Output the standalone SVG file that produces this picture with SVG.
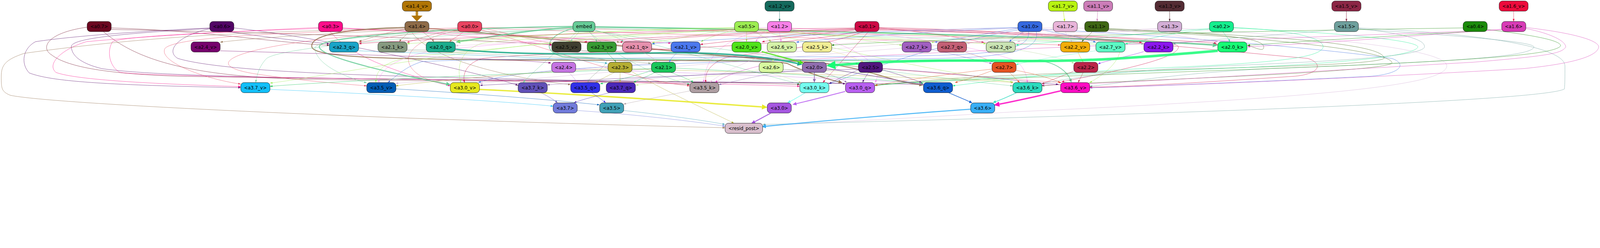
<svg xmlns="http://www.w3.org/2000/svg" width="6300" height="635" viewBox="0 0 6300 635">
<style>
@media (max-width:6290px){svg{width:100vw;height:auto}}
.node rect{stroke:#000;stroke-width:1.2}
.node text{font-family:"DejaVu Sans","Liberation Sans",sans-serif;font-size:18px;text-anchor:middle;fill:#000}
#connectors path{fill:none;stroke-width:1.2;stroke-opacity:.85}
.c-a14v{stroke:#b07505;marker-end:url(#m-a14v)}.c-a12v{stroke:#14695c;marker-end:url(#m-a12v)}.c-a17v{stroke:#b8f311;marker-end:url(#m-a17v)}.c-a11v{stroke:#cc7db8;marker-end:url(#m-a11v)}.c-a13v{stroke:#542c34;marker-end:url(#m-a13v)}.c-a15v{stroke:#8b2645;marker-end:url(#m-a15v)}.c-a16v{stroke:#f590a8;marker-end:url(#m-a16v)}
.c-a07{stroke:#6b0620;marker-end:url(#m-a07)}.c-a06{stroke:#520565;marker-end:url(#m-a06)}.c-a03{stroke:#fb0d8a;marker-end:url(#m-a03)}.c-a14{stroke:#8e6b48;marker-end:url(#m-a14)}.c-a00{stroke:#e94461;marker-end:url(#m-a00)}.c-emb{stroke:#66cb97;marker-end:url(#m-emb)}.c-a05{stroke:#9ded52;marker-end:url(#m-a05)}.c-a12{stroke:#f880e8;marker-end:url(#m-a12)}.c-a01{stroke:#cd0a45;marker-end:url(#m-a01)}.c-a10{stroke:#3569df;marker-end:url(#m-a10)}.c-a17{stroke:#e8b4d9;marker-end:url(#m-a17)}.c-a11{stroke:#3f6614;marker-end:url(#m-a11)}.c-a13{stroke:#d3aed6;marker-end:url(#m-a13)}.c-a02{stroke:#14ee8e;marker-end:url(#m-a02)}.c-a15{stroke:#6e9f9c;marker-end:url(#m-a15)}.c-a04{stroke:#1b8a0a;marker-end:url(#m-a04)}.c-a16{stroke:#d83bb6;marker-end:url(#m-a16)}
.c-a24v{stroke:#76036d;marker-end:url(#m-a24v)}.c-a23q{stroke:#19a4c8;marker-end:url(#m-a23q)}.c-a21k{stroke:#869a80;marker-end:url(#m-a21k)}.c-a20q{stroke:#1bac8b;marker-end:url(#m-a20q)}.c-a25v{stroke:#403f30;marker-end:url(#m-a25v)}.c-a23v{stroke:#379b33;marker-end:url(#m-a23v)}.c-a21q{stroke:#e690ad;marker-end:url(#m-a21q)}.c-a21v{stroke:#4b78ee;marker-end:url(#m-a21v)}.c-a20v{stroke:#50e31a;marker-end:url(#m-a20v)}.c-a26v{stroke:#c5e898;marker-end:url(#m-a26v)}.c-a25k{stroke:#e6e080;marker-end:url(#m-a25k)}.c-a27k{stroke:#a15fc0;marker-end:url(#m-a27k)}.c-a27q{stroke:#c35f75;marker-end:url(#m-a27q)}.c-a22q{stroke:#b9d8a0;marker-end:url(#m-a22q)}.c-a22v{stroke:#f2ae0a;marker-end:url(#m-a22v)}.c-a27v{stroke:#5cf8c4;marker-end:url(#m-a27v)}.c-a22k{stroke:#8c16ed;marker-end:url(#m-a22k)}.c-a20k{stroke:#17fc75;marker-end:url(#m-a20k)}
.c-a24{stroke:#c574e2;marker-end:url(#m-a24)}.c-a23{stroke:#b5ae33;marker-end:url(#m-a23)}.c-a21{stroke:#1bc65b;marker-end:url(#m-a21)}.c-a26{stroke:#c8ee90;marker-end:url(#m-a26)}.c-a20{stroke:#906dae;marker-end:url(#m-a20)}.c-a25{stroke:#52177e;marker-end:url(#m-a25)}.c-a27{stroke:#e45322;marker-end:url(#m-a27)}.c-a22{stroke:#bb2449;marker-end:url(#m-a22)}
.c-a37v{stroke:#13bff9;marker-end:url(#m-a37v)}.c-a35v{stroke:#015db5;marker-end:url(#m-a35v)}.c-a30v{stroke:#e6e920;marker-end:url(#m-a30v)}.c-a37k{stroke:#6050b7;marker-end:url(#m-a37k)}.c-a35q{stroke:#3130e8;marker-end:url(#m-a35q)}.c-a37q{stroke:#4b28b8;marker-end:url(#m-a37q)}.c-a35k{stroke:#ae9ea2;marker-end:url(#m-a35k)}.c-a30k{stroke:#74fcef;marker-end:url(#m-a30k)}.c-a30q{stroke:#b85ff0;marker-end:url(#m-a30q)}.c-a36q{stroke:#0f5dcf;marker-end:url(#m-a36q)}.c-a36k{stroke:#2bdbbe;marker-end:url(#m-a36k)}.c-a36v{stroke:#fd0bc3;marker-end:url(#m-a36v)}
.c-a37{stroke:#717bdb;marker-end:url(#m-a37)}.c-a35{stroke:#41a1b7;marker-end:url(#m-a35)}.c-a30{stroke:#a557e0;marker-end:url(#m-a30)}.c-a36{stroke:#39aff6;marker-end:url(#m-a36)}
</style>
<defs>
<marker id="m-a14v" markerWidth="10" markerHeight="8" refX="10" refY="4" orient="auto" markerUnits="userSpaceOnUse"><path d="M0,0.5L10,4L0,7.5z" fill="#b07505"/></marker>
<marker id="m-a12v" markerWidth="10" markerHeight="8" refX="10" refY="4" orient="auto" markerUnits="userSpaceOnUse"><path d="M0,0.5L10,4L0,7.5z" fill="#14695c"/></marker>
<marker id="m-a17v" markerWidth="10" markerHeight="8" refX="10" refY="4" orient="auto" markerUnits="userSpaceOnUse"><path d="M0,0.5L10,4L0,7.5z" fill="#b8f311"/></marker>
<marker id="m-a11v" markerWidth="10" markerHeight="8" refX="10" refY="4" orient="auto" markerUnits="userSpaceOnUse"><path d="M0,0.5L10,4L0,7.5z" fill="#cc7db8"/></marker>
<marker id="m-a13v" markerWidth="10" markerHeight="8" refX="10" refY="4" orient="auto" markerUnits="userSpaceOnUse"><path d="M0,0.5L10,4L0,7.5z" fill="#542c34"/></marker>
<marker id="m-a15v" markerWidth="10" markerHeight="8" refX="10" refY="4" orient="auto" markerUnits="userSpaceOnUse"><path d="M0,0.5L10,4L0,7.5z" fill="#8b2645"/></marker>
<marker id="m-a16v" markerWidth="10" markerHeight="8" refX="10" refY="4" orient="auto" markerUnits="userSpaceOnUse"><path d="M0,0.5L10,4L0,7.5z" fill="#ed0b3c"/></marker>
<marker id="m-a07" markerWidth="10" markerHeight="8" refX="10" refY="4" orient="auto" markerUnits="userSpaceOnUse"><path d="M0,0.5L10,4L0,7.5z" fill="#6b0620"/></marker>
<marker id="m-a06" markerWidth="10" markerHeight="8" refX="10" refY="4" orient="auto" markerUnits="userSpaceOnUse"><path d="M0,0.5L10,4L0,7.5z" fill="#520565"/></marker>
<marker id="m-a03" markerWidth="10" markerHeight="8" refX="10" refY="4" orient="auto" markerUnits="userSpaceOnUse"><path d="M0,0.5L10,4L0,7.5z" fill="#fb0d8a"/></marker>
<marker id="m-a14" markerWidth="10" markerHeight="8" refX="10" refY="4" orient="auto" markerUnits="userSpaceOnUse"><path d="M0,0.5L10,4L0,7.5z" fill="#8e6b48"/></marker>
<marker id="m-a00" markerWidth="10" markerHeight="8" refX="10" refY="4" orient="auto" markerUnits="userSpaceOnUse"><path d="M0,0.5L10,4L0,7.5z" fill="#e94461"/></marker>
<marker id="m-emb" markerWidth="10" markerHeight="8" refX="10" refY="4" orient="auto" markerUnits="userSpaceOnUse"><path d="M0,0.5L10,4L0,7.5z" fill="#66cb97"/></marker>
<marker id="m-a05" markerWidth="10" markerHeight="8" refX="10" refY="4" orient="auto" markerUnits="userSpaceOnUse"><path d="M0,0.5L10,4L0,7.5z" fill="#9ded52"/></marker>
<marker id="m-a12" markerWidth="10" markerHeight="8" refX="10" refY="4" orient="auto" markerUnits="userSpaceOnUse"><path d="M0,0.5L10,4L0,7.5z" fill="#f880e8"/></marker>
<marker id="m-a01" markerWidth="10" markerHeight="8" refX="10" refY="4" orient="auto" markerUnits="userSpaceOnUse"><path d="M0,0.5L10,4L0,7.5z" fill="#cd0a45"/></marker>
<marker id="m-a10" markerWidth="10" markerHeight="8" refX="10" refY="4" orient="auto" markerUnits="userSpaceOnUse"><path d="M0,0.5L10,4L0,7.5z" fill="#3569df"/></marker>
<marker id="m-a17" markerWidth="10" markerHeight="8" refX="10" refY="4" orient="auto" markerUnits="userSpaceOnUse"><path d="M0,0.5L10,4L0,7.5z" fill="#e8b4d9"/></marker>
<marker id="m-a11" markerWidth="10" markerHeight="8" refX="10" refY="4" orient="auto" markerUnits="userSpaceOnUse"><path d="M0,0.5L10,4L0,7.5z" fill="#3f6614"/></marker>
<marker id="m-a13" markerWidth="10" markerHeight="8" refX="10" refY="4" orient="auto" markerUnits="userSpaceOnUse"><path d="M0,0.5L10,4L0,7.5z" fill="#d3aed6"/></marker>
<marker id="m-a02" markerWidth="10" markerHeight="8" refX="10" refY="4" orient="auto" markerUnits="userSpaceOnUse"><path d="M0,0.5L10,4L0,7.5z" fill="#14ee8e"/></marker>
<marker id="m-a15" markerWidth="10" markerHeight="8" refX="10" refY="4" orient="auto" markerUnits="userSpaceOnUse"><path d="M0,0.5L10,4L0,7.5z" fill="#6e9f9c"/></marker>
<marker id="m-a04" markerWidth="10" markerHeight="8" refX="10" refY="4" orient="auto" markerUnits="userSpaceOnUse"><path d="M0,0.5L10,4L0,7.5z" fill="#1b8a0a"/></marker>
<marker id="m-a16" markerWidth="10" markerHeight="8" refX="10" refY="4" orient="auto" markerUnits="userSpaceOnUse"><path d="M0,0.5L10,4L0,7.5z" fill="#d83bb6"/></marker>
<marker id="m-a24v" markerWidth="10" markerHeight="8" refX="10" refY="4" orient="auto" markerUnits="userSpaceOnUse"><path d="M0,0.5L10,4L0,7.5z" fill="#76036d"/></marker>
<marker id="m-a23q" markerWidth="10" markerHeight="8" refX="10" refY="4" orient="auto" markerUnits="userSpaceOnUse"><path d="M0,0.5L10,4L0,7.5z" fill="#19a4c8"/></marker>
<marker id="m-a21k" markerWidth="10" markerHeight="8" refX="10" refY="4" orient="auto" markerUnits="userSpaceOnUse"><path d="M0,0.5L10,4L0,7.5z" fill="#869a80"/></marker>
<marker id="m-a20q" markerWidth="10" markerHeight="8" refX="10" refY="4" orient="auto" markerUnits="userSpaceOnUse"><path d="M0,0.5L10,4L0,7.5z" fill="#1bac8b"/></marker>
<marker id="m-a25v" markerWidth="10" markerHeight="8" refX="10" refY="4" orient="auto" markerUnits="userSpaceOnUse"><path d="M0,0.5L10,4L0,7.5z" fill="#403f30"/></marker>
<marker id="m-a23v" markerWidth="10" markerHeight="8" refX="10" refY="4" orient="auto" markerUnits="userSpaceOnUse"><path d="M0,0.5L10,4L0,7.5z" fill="#379b33"/></marker>
<marker id="m-a21q" markerWidth="10" markerHeight="8" refX="10" refY="4" orient="auto" markerUnits="userSpaceOnUse"><path d="M0,0.5L10,4L0,7.5z" fill="#e690ad"/></marker>
<marker id="m-a21v" markerWidth="10" markerHeight="8" refX="10" refY="4" orient="auto" markerUnits="userSpaceOnUse"><path d="M0,0.5L10,4L0,7.5z" fill="#4b78ee"/></marker>
<marker id="m-a20v" markerWidth="10" markerHeight="8" refX="10" refY="4" orient="auto" markerUnits="userSpaceOnUse"><path d="M0,0.5L10,4L0,7.5z" fill="#50e31a"/></marker>
<marker id="m-a26v" markerWidth="10" markerHeight="8" refX="10" refY="4" orient="auto" markerUnits="userSpaceOnUse"><path d="M0,0.5L10,4L0,7.5z" fill="#c5e898"/></marker>
<marker id="m-a25k" markerWidth="10" markerHeight="8" refX="10" refY="4" orient="auto" markerUnits="userSpaceOnUse"><path d="M0,0.5L10,4L0,7.5z" fill="#e6e080"/></marker>
<marker id="m-a27k" markerWidth="10" markerHeight="8" refX="10" refY="4" orient="auto" markerUnits="userSpaceOnUse"><path d="M0,0.5L10,4L0,7.5z" fill="#a15fc0"/></marker>
<marker id="m-a27q" markerWidth="10" markerHeight="8" refX="10" refY="4" orient="auto" markerUnits="userSpaceOnUse"><path d="M0,0.5L10,4L0,7.5z" fill="#c35f75"/></marker>
<marker id="m-a22q" markerWidth="10" markerHeight="8" refX="10" refY="4" orient="auto" markerUnits="userSpaceOnUse"><path d="M0,0.5L10,4L0,7.5z" fill="#b9d8a0"/></marker>
<marker id="m-a22v" markerWidth="10" markerHeight="8" refX="10" refY="4" orient="auto" markerUnits="userSpaceOnUse"><path d="M0,0.5L10,4L0,7.5z" fill="#f2ae0a"/></marker>
<marker id="m-a27v" markerWidth="10" markerHeight="8" refX="10" refY="4" orient="auto" markerUnits="userSpaceOnUse"><path d="M0,0.5L10,4L0,7.5z" fill="#5cf8c4"/></marker>
<marker id="m-a22k" markerWidth="10" markerHeight="8" refX="10" refY="4" orient="auto" markerUnits="userSpaceOnUse"><path d="M0,0.5L10,4L0,7.5z" fill="#8c16ed"/></marker>
<marker id="m-a20k" markerWidth="10" markerHeight="8" refX="10" refY="4" orient="auto" markerUnits="userSpaceOnUse"><path d="M0,0.5L10,4L0,7.5z" fill="#17fc75"/></marker>
<marker id="m-a24" markerWidth="10" markerHeight="8" refX="10" refY="4" orient="auto" markerUnits="userSpaceOnUse"><path d="M0,0.5L10,4L0,7.5z" fill="#c574e2"/></marker>
<marker id="m-a23" markerWidth="10" markerHeight="8" refX="10" refY="4" orient="auto" markerUnits="userSpaceOnUse"><path d="M0,0.5L10,4L0,7.5z" fill="#b5ae33"/></marker>
<marker id="m-a21" markerWidth="10" markerHeight="8" refX="10" refY="4" orient="auto" markerUnits="userSpaceOnUse"><path d="M0,0.5L10,4L0,7.5z" fill="#1bc65b"/></marker>
<marker id="m-a26" markerWidth="10" markerHeight="8" refX="10" refY="4" orient="auto" markerUnits="userSpaceOnUse"><path d="M0,0.5L10,4L0,7.5z" fill="#c8ee90"/></marker>
<marker id="m-a20" markerWidth="10" markerHeight="8" refX="10" refY="4" orient="auto" markerUnits="userSpaceOnUse"><path d="M0,0.5L10,4L0,7.5z" fill="#906dae"/></marker>
<marker id="m-a25" markerWidth="10" markerHeight="8" refX="10" refY="4" orient="auto" markerUnits="userSpaceOnUse"><path d="M0,0.5L10,4L0,7.5z" fill="#52177e"/></marker>
<marker id="m-a27" markerWidth="10" markerHeight="8" refX="10" refY="4" orient="auto" markerUnits="userSpaceOnUse"><path d="M0,0.5L10,4L0,7.5z" fill="#e45322"/></marker>
<marker id="m-a22" markerWidth="10" markerHeight="8" refX="10" refY="4" orient="auto" markerUnits="userSpaceOnUse"><path d="M0,0.5L10,4L0,7.5z" fill="#bb2449"/></marker>
<marker id="m-a37v" markerWidth="10" markerHeight="8" refX="10" refY="4" orient="auto" markerUnits="userSpaceOnUse"><path d="M0,0.5L10,4L0,7.5z" fill="#13bff9"/></marker>
<marker id="m-a35v" markerWidth="10" markerHeight="8" refX="10" refY="4" orient="auto" markerUnits="userSpaceOnUse"><path d="M0,0.5L10,4L0,7.5z" fill="#015db5"/></marker>
<marker id="m-a30v" markerWidth="10" markerHeight="8" refX="10" refY="4" orient="auto" markerUnits="userSpaceOnUse"><path d="M0,0.5L10,4L0,7.5z" fill="#e6e920"/></marker>
<marker id="m-a37k" markerWidth="10" markerHeight="8" refX="10" refY="4" orient="auto" markerUnits="userSpaceOnUse"><path d="M0,0.5L10,4L0,7.5z" fill="#6050b7"/></marker>
<marker id="m-a35q" markerWidth="10" markerHeight="8" refX="10" refY="4" orient="auto" markerUnits="userSpaceOnUse"><path d="M0,0.5L10,4L0,7.5z" fill="#3130e8"/></marker>
<marker id="m-a37q" markerWidth="10" markerHeight="8" refX="10" refY="4" orient="auto" markerUnits="userSpaceOnUse"><path d="M0,0.5L10,4L0,7.5z" fill="#4b28b8"/></marker>
<marker id="m-a35k" markerWidth="10" markerHeight="8" refX="10" refY="4" orient="auto" markerUnits="userSpaceOnUse"><path d="M0,0.5L10,4L0,7.5z" fill="#ae9ea2"/></marker>
<marker id="m-a30k" markerWidth="10" markerHeight="8" refX="10" refY="4" orient="auto" markerUnits="userSpaceOnUse"><path d="M0,0.5L10,4L0,7.5z" fill="#74fcef"/></marker>
<marker id="m-a30q" markerWidth="10" markerHeight="8" refX="10" refY="4" orient="auto" markerUnits="userSpaceOnUse"><path d="M0,0.5L10,4L0,7.5z" fill="#b85ff0"/></marker>
<marker id="m-a36q" markerWidth="10" markerHeight="8" refX="10" refY="4" orient="auto" markerUnits="userSpaceOnUse"><path d="M0,0.5L10,4L0,7.5z" fill="#0f5dcf"/></marker>
<marker id="m-a36k" markerWidth="10" markerHeight="8" refX="10" refY="4" orient="auto" markerUnits="userSpaceOnUse"><path d="M0,0.5L10,4L0,7.5z" fill="#2bdbbe"/></marker>
<marker id="m-a36v" markerWidth="10" markerHeight="8" refX="10" refY="4" orient="auto" markerUnits="userSpaceOnUse"><path d="M0,0.5L10,4L0,7.5z" fill="#fd0bc3"/></marker>
<marker id="m-a37" markerWidth="10" markerHeight="8" refX="10" refY="4" orient="auto" markerUnits="userSpaceOnUse"><path d="M0,0.5L10,4L0,7.5z" fill="#717bdb"/></marker>
<marker id="m-a35" markerWidth="10" markerHeight="8" refX="10" refY="4" orient="auto" markerUnits="userSpaceOnUse"><path d="M0,0.5L10,4L0,7.5z" fill="#41a1b7"/></marker>
<marker id="m-a30" markerWidth="10" markerHeight="8" refX="10" refY="4" orient="auto" markerUnits="userSpaceOnUse"><path d="M0,0.5L10,4L0,7.5z" fill="#a557e0"/></marker>
<marker id="m-a36" markerWidth="10" markerHeight="8" refX="10" refY="4" orient="auto" markerUnits="userSpaceOnUse"><path d="M0,0.5L10,4L0,7.5z" fill="#39aff6"/></marker>
<marker id="t-a14v" markerWidth="23" markerHeight="44" refX="0" refY="22" orient="auto" markerUnits="userSpaceOnUse"><path d="M0,0L23,22L0,44z" fill="#b07505"/></marker>
<marker id="t-emb-a" markerWidth="18" markerHeight="16" refX="0" refY="8" orient="auto" markerUnits="userSpaceOnUse"><path d="M0,0L18,8L0,16z" fill="#66cb97"/></marker>
<marker id="t-emb-b" markerWidth="20" markerHeight="18" refX="0" refY="9" orient="auto" markerUnits="userSpaceOnUse"><path d="M0,0L20,9L0,18z" fill="#66cb97"/></marker>
<marker id="t-emb-c" markerWidth="14" markerHeight="12" refX="0" refY="6" orient="auto" markerUnits="userSpaceOnUse"><path d="M0,0L14,6L0,12z" fill="#66cb97"/></marker>
<marker id="t-a14" markerWidth="16" markerHeight="14" refX="0" refY="7" orient="auto" markerUnits="userSpaceOnUse"><path d="M0,0L16,7L0,14z" fill="#8e6b48"/></marker>
<marker id="t-a20q" markerWidth="20" markerHeight="18" refX="0" refY="9" orient="auto" markerUnits="userSpaceOnUse"><path d="M0,0L20,9L0,18z" fill="#1bac8b"/></marker>
<marker id="t-a20v" markerWidth="18" markerHeight="16" refX="0" refY="8" orient="auto" markerUnits="userSpaceOnUse"><path d="M0,0L18,8L0,16z" fill="#50e31a"/></marker>
<marker id="t-a20k" markerWidth="36" markerHeight="34" refX="0" refY="17" orient="auto" markerUnits="userSpaceOnUse"><path d="M0,0L36,17L0,34z" fill="#17fc75"/></marker>
<marker id="t-a20" markerWidth="14" markerHeight="12" refX="0" refY="6" orient="auto" markerUnits="userSpaceOnUse"><path d="M0,0L14,6L0,12z" fill="#906dae"/></marker>
<marker id="t-a30v" markerWidth="22" markerHeight="20" refX="0" refY="10" orient="auto" markerUnits="userSpaceOnUse"><path d="M0,0L22,10L0,20z" fill="#e6e920"/></marker>
<marker id="t-a30q" markerWidth="16" markerHeight="14" refX="0" refY="7" orient="auto" markerUnits="userSpaceOnUse"><path d="M0,0L16,7L0,14z" fill="#b85ff0"/></marker>
<marker id="t-a30k" markerWidth="14" markerHeight="12" refX="0" refY="6" orient="auto" markerUnits="userSpaceOnUse"><path d="M0,0L14,6L0,12z" fill="#74fcef"/></marker>
<marker id="t-a36q" markerWidth="13" markerHeight="11" refX="0" refY="5.5" orient="auto" markerUnits="userSpaceOnUse"><path d="M0,0L13,5.5L0,11z" fill="#0f5dcf"/></marker>
<marker id="t-a36k" markerWidth="13" markerHeight="11" refX="0" refY="5.5" orient="auto" markerUnits="userSpaceOnUse"><path d="M0,0L13,5.5L0,11z" fill="#2bdbbe"/></marker>
<marker id="t-a36v" markerWidth="22" markerHeight="20" refX="0" refY="10" orient="auto" markerUnits="userSpaceOnUse"><path d="M0,0L22,10L0,20z" fill="#fd0bc3"/></marker>
<marker id="t-a30" markerWidth="16" markerHeight="14" refX="0" refY="7" orient="auto" markerUnits="userSpaceOnUse"><path d="M0,0L16,7L0,14z" fill="#a557e0"/></marker>
<marker id="t-a36" markerWidth="18" markerHeight="16" refX="0" refY="8" orient="auto" markerUnits="userSpaceOnUse"><path d="M0,0L18,8L0,16z" fill="#39aff6"/></marker>
</defs>
<rect width="6300" height="635" fill="#fff"/>
<g id="connectors">
<path class="c-a14v" d="M1641.5,44V61.5" style="stroke-width:10;marker-end:url(#t-a14v)"/>
<path class="c-a12v" d="M3069.5,44V84.5"/>
<path class="c-a17v" d="M4187,44L4192,84.5" style="stroke-width:1.5"/>
<path class="c-a11v" d="M4322,44L4320,84.5" style="stroke-width:1.5"/>
<path class="c-a13v" d="M4605.5,44V84.5" style="stroke-width:1.5"/>
<path class="c-a15v" d="M5301.5,44V84.5" style="stroke-width:1.5"/>
<path class="c-a16v" d="M5960,44V84.5" style="stroke-width:2.5"/>
<path class="c-a07" d="M438,110C800,120 1100,170 1297,178"/>
<path class="c-a07" d="M407,124.5C520,220 700,300 1200,312C1900,322 2500,318 2716,333"/>
<path class="c-a07" d="M343,107C180,130 160,190 203,216C260,260 400,290 700,300C1500,315 2800,318 3149,333"/>
<path class="c-a07" d="M438,116C1200,130 1900,160 2173,175"/>
<path class="c-a06" d="M900,124.5C1000,140 1200,165 1297,172"/>
<path class="c-a06" d="M921,110C1300,150 1900,290 2040,336"/>
<path class="c-a06" d="M826,110C600,120 300,140 140,164C90,190 80,250 115,287C200,320 400,335 948,345"/>
<path class="c-a06" d="M826,112C500,130 281,150 281,183C281,220 320,250 400,270C600,300 1200,310 2000,315C3000,325 3500,328 3636,333"/>
<path class="c-a06" d="M826,113C700,140 650,200 700,230C900,290 1600,300 2000,310C2800,330 3200,322 3329,330"/>
<path class="c-a03" d="M1254,108C1000,120 600,140 341,164C250,190 180,250 220,285C300,315 600,330 948,341"/>
<path class="c-a03" d="M1254,112C900,125 500,140 443,164C420,200 430,260 470,284C600,310 2500,315 3149,340"/>
<path class="c-a03" d="M1348,110C1800,130 2100,170 2173,178"/>
<path class="c-a03" d="M1348,112C2000,140 2500,160 2642,170"/>
<path class="c-a03" d="M1300,124.5C1400,250 1700,320 1773,338"/>
<path class="c-a14" d="M1594,108C1300,115 1220,150 1228,185C1236,225 1500,233 2000,236C2600,238 3050,236 3100,250C3150,275 3250,310 3302,322" style="stroke-width:3.5;marker-end:url(#t-a14)"/>
<path class="c-a14" d="M1688,112C2200,150 2800,225 3200,245C3400,260 3500,320 3620,333" style="stroke-width:3.5;marker-end:url(#t-a14)"/>
<path class="c-a14" d="M1610,124.5C1600,140 1580,150 1573,165"/>
<path class="c-a14" d="M1665,124.5C1680,140 1700,150 1708,165"/>
<path class="c-a14" d="M1594,118C1300,130 1000,150 867,166"/>
<path class="c-a14" d="M1688,118C2000,140 2350,155 2440,166"/>
<path class="c-a14" d="M1620,124.5C1700,250 2100,320 2247,333"/>
<path class="c-a14" d="M1594,116C1500,130 1450,155 1413,162"/>
<path class="c-a14" d="M1594,112C1000,125 600,140 95,210C20,235 5,257 5,300C5,348 5,360 40,375C200,410 1500,470 2855,503"/>
<path class="c-a00" d="M1802,112C1600,130 1500,155 1413,166"/>
<path class="c-a00" d="M1802,115C1700,130 1650,155 1602,167"/>
<path class="c-a00" d="M1825,124.5C1810,140 1785,150 1770,165"/>
<path class="c-a00" d="M1896,110C2000,130 2100,160 2173,170"/>
<path class="c-a00" d="M1802,110C1200,125 700,140 650,190C620,240 800,310 948,331"/>
<path class="c-a00" d="M1802,118C1100,140 700,240 1000,290C1200,320 1350,330 1444,338"/>
<path class="c-a00" d="M1802,120C1500,180 1600,320 1773,332"/>
<path class="c-a00" d="M1896,112C2800,140 3800,165 4176,177"/>
<path class="c-a00" d="M1896,108C3000,120 4400,160 4795,175"/>
<path class="c-a00" d="M1896,118C2200,200 2500,320 2716,338"/>
<path class="c-a00" d="M1896,121C2600,200 3800,300 4180,325"/>
<path class="c-emb" d="M2256,108C2100,115 1900,150 1812,163" style="stroke-width:5;marker-end:url(#t-emb-a)"/>
<path class="c-emb" d="M2343,106C3000,115 4400,150 4775,177" style="stroke-width:6;marker-end:url(#t-emb-b)"/>
<path class="c-emb" d="M2256,104C1800,110 1250,140 1257,185C1265,230 1600,300 1757,330" style="stroke-width:4;marker-end:url(#t-emb-a)"/>
<path class="c-emb" d="M2256,112C2150,140 2130,200 2215,223C2400,240 3500,238 4100,240C4170,250 4205,290 4214,312" style="stroke-width:3;marker-end:url(#t-emb-c)"/>
<path class="c-emb" d="M2280,124.5C2270,140 2255,150 2247,165"/>
<path class="c-emb" d="M2320,124.5C2330,140 2345,150 2350,165"/>
<path class="c-emb" d="M2343,118C2400,135 2440,150 2455,165"/>
<path class="c-emb" d="M2343,112C3000,130 4000,160 4504,173"/>
<path class="c-emb" d="M2256,116C1700,130 1240,140 1240,190C1245,260 1380,310 1444,326"/>
<path class="c-emb" d="M2256,115C1600,140 1100,190 1050,230C1020,260 1010,300 1007,325"/>
<path class="c-emb" d="M2270,124.5C2200,200 2100,280 2060,325"/>
<path class="c-emb" d="M2320,124.5C2450,250 2650,320 2716,330"/>
<path class="c-emb" d="M2343,120C2700,200 3050,310 3149,330"/>
<path class="c-emb" d="M2343,122C3000,220 3800,320 3988,338"/>
<path class="c-a05" d="M2939.5,124.5V165"/>
<path class="c-a05" d="M2975,124.5C2990,140 3025,150 3035,165"/>
<path class="c-a05" d="M2892,118C2830,135 2780,150 2760,165"/>
<path class="c-a05" d="M2987,112C3200,130 3450,165 3552,178"/>
<path class="c-a05" d="M2987,118C3300,140 3550,160 3680,166"/>
<path class="c-a05" d="M2987,120C3400,145 3750,165 3883,172"/>
<path class="c-a05" d="M2892,108C2400,115 2000,150 1800,165"/>
<path class="c-a05" d="M2892,110C2300,120 1800,160 1602,172"/>
<path class="c-a05" d="M2892,115C2800,125 2650,155 2567,168"/>
<path class="c-a05" d="M2892,112C2000,150 1300,300 1063,327"/>
<path class="c-a05" d="M2892,114C2300,150 1900,200 1700,215C1500,230 1480,280 1480,325"/>
<path class="c-a05" d="M2892,116C2500,140 2000,150 1900,170C1800,200 1800,280 1815,325"/>
<path class="c-a05" d="M2987,120C3400,220 3850,310 3988,322"/>
<path class="c-a05" d="M2987,114C3800,140 4400,160 4410,200C4400,260 4320,310 4290,325"/>
<path class="c-a12" d="M3069.5,124.5C3070,140 3075,150 3075,165"/>
<path class="c-a12" d="M3022,112C3000,130 2985,150 2975,165"/>
<path class="c-a12" d="M3022,108C2500,130 2200,150 1700,200C1550,230 1490,280 1492,325"/>
<path class="c-a12" d="M3022,115C2850,150 2780,220 2770,325"/>
<path class="c-a12" d="M3117,115C3300,160 3500,240 3445,325"/>
<path class="c-a12" d="M3117,110C3600,130 3900,200 4000,240C4030,260 4045,300 4045,325"/>
<path class="c-a01" d="M3366,110C2500,120 1700,150 1413,172"/>
<path class="c-a01" d="M3366,112C3000,125 2500,150 2300,165"/>
<path class="c-a01" d="M3366,114C3000,130 2600,150 2440,166"/>
<path class="c-a01" d="M3366,116C3100,135 2850,165 2757,175"/>
<path class="c-a01" d="M3366,118C3200,135 3050,155 3000,165"/>
<path class="c-a01" d="M3461,110C3700,130 3800,155 3875,167"/>
<path class="c-a01" d="M3461,108C4000,120 4350,155 4497,167"/>
<path class="c-a01" d="M3461,112C4000,125 4600,155 4790,170"/>
<path class="c-a01" d="M3380,124.5C3000,200 2200,200 1900,230C1830,250 1820,300 1830,325"/>
<path class="c-a01" d="M3400,124.5C3200,200 2900,210 2850,230C2780,260 2775,300 2780,325"/>
<path class="c-a01" d="M3420,124.5C3350,200 3280,280 3240,325"/>
<path class="c-a01" d="M3461,118C4200,140 4640,150 4640,185C4640,230 4400,280 4180,322"/>
<path class="c-a01" d="M3461,115C4200,130 4800,200 5150,230C5210,250 5200,290 5100,300C4800,320 4500,340 4291,343"/>
<path class="c-a10" d="M4030,124.5C4010,140 3985,150 3975,165"/>
<path class="c-a10" d="M4103,118C4200,135 4280,155 4315,166"/>
<path class="c-a10" d="M4008,112C3900,130 3750,155 3680,166"/>
<path class="c-a10" d="M4008,108C3500,120 2800,155 2567,172"/>
<path class="c-a10" d="M4008,110C3600,125 3250,155 3135,166"/>
<path class="c-a10" d="M4050,124.5C4060,200 3900,215 3600,220C2800,228 1800,230 1661,243C1600,260 1560,300 1527,325"/>
<path class="c-a10" d="M4080,124.5C4100,200 3950,225 3700,230C3000,238 2100,250 1883,325"/>
<path class="c-a10" d="M4008,118C3700,170 3400,280 3265,330"/>
<path class="c-a10" d="M4103,115C4600,140 5200,190 5480,230C5540,250 5520,290 5400,300C5000,320 4500,340 4291,346"/>
<path class="c-a17" d="M4147,110C3000,120 2000,170 1794,180"/>
<path class="c-a17" d="M4147,114C4000,135 3880,160 3807,172"/>
<path class="c-a17" d="M4160,124.5C4100,140 4040,155 4005,165"/>
<path class="c-a17" d="M4195,124.5C4200,140 4215,150 4220,165"/>
<path class="c-a17" d="M4242,110C4500,125 4700,150 4795,165"/>
<path class="c-a17" d="M4147,118C3700,150 3100,170 3000,220C2900,260 2820,300 2795,325"/>
<path class="c-a11" d="M4300,124.5C4290,140 4270,150 4260,165"/>
<path class="c-a11" d="M4366,112C4700,130 4976,140 4976,185C4976,205 4950,190 4912,178"/>
<path class="c-a11" d="M4366,115C5000,140 5450,170 5450,230C5400,260 4800,265 4300,285C3800,300 3600,320 3445,337"/>
<path class="c-a11" d="M4366,118C5100,150 5500,210 5480,250C5400,290 4300,320 4102,338"/>
<path class="c-a13" d="M4558,112C3500,160 2000,300 1558,328"/>
<path class="c-a13" d="M4558,115C3600,180 2200,300 1890,328"/>
<path class="c-a13" d="M4652,112C5300,150 5697,200 5697,260C5690,330 5300,380 4000,440C3500,470 3100,490 3003,496"/>
<path class="c-a13" d="M4580,124.5C4650,145 4750,160 4795,163"/>
<path class="c-a02" d="M4815,124.5C4825,140 4838,150 4842,165"/>
<path class="c-a02" d="M4762,115C4600,130 4500,160 4430,173"/>
<path class="c-a02" d="M4762,112C4500,130 4200,165 4000,177"/>
<path class="c-a02" d="M4856,108C5100,120 5210,150 5210,185C5200,230 5000,250 4500,270C4100,290 3900,320 3751,338"/>
<path class="c-a02" d="M4856,110C5300,130 5583,160 5583,185C5570,220 5300,250 4800,270C4000,300 3600,320 3445,337"/>
<path class="c-a15" d="M5348,110C5800,130 6162,180 6162,260C6162,300 6162,330 6160,350C6100,390 5000,440 3003,490"/>
<path class="c-a15" d="M5348,112C5600,140 5609,170 5609,185C5600,220 5300,240 4800,260C4300,285 4150,320 4102,330"/>
<path class="c-a15" d="M5348,115C5900,150 6040,170 6040,185C6030,220 5800,240 5000,270C4600,290 4400,330 4291,340"/>
<path class="c-a15" d="M5254,118C5000,140 4700,160 4618,173"/>
<path class="c-a04" d="M5761,110C5000,120 3700,150 3274,178"/>
<path class="c-a04" d="M5780,124.5C5500,140 5100,165 4912,178"/>
<path class="c-a04" d="M5855,116C6050,140 6145,160 6145,180C6130,215 5800,240 5000,270C4200,300 3600,320 3445,335"/>
<path class="c-a16" d="M5913,115C5600,140 5200,170 4912,184"/>
<path class="c-a16" d="M5913,118C5000,150 3300,220 3100,240C2950,260 2850,300 2815,325"/>
<path class="c-a16" d="M6007,108C6200,130 6295,160 6295,185C6290,220 6200,250 6000,270C5500,300 4600,340 4291,345"/>
<path class="c-a16" d="M6007,112C6100,130 6165,160 6165,185C6150,210 6100,220 5800,245C5000,290 4400,330 4102,335"/>
<path class="c-a24v" d="M867,200C1400,215 2000,230 2170,248"/>
<path class="c-a23q" d="M1413,200C1800,215 2300,230 2392,250"/>
<path class="c-a21k" d="M1602,200C2000,215 2450,235 2563,250"/>
<path class="c-a21k" d="M1602,195C2000,205 2380,220 2390,240C2380,270 2320,300 2315,325"/>
<path class="c-a20q" d="M1794,194C2000,215 2300,215 2600,208C2900,205 3050,230 3140,250" style="stroke-width:6;marker-end:url(#t-a20q)"/>
<path class="c-a25v" d="M2288,200C2700,215 3200,235 3380,250"/>
<path class="c-a23v" d="M2390,205C2400,220 2420,235 2425,245"/>
<path class="c-a21q" d="M2530,205C2560,220 2580,235 2585,245"/>
<path class="c-a21v" d="M2670,205C2650,220 2640,235 2635,245"/>
<path class="c-a20v" d="M2999,203C3060,220 3110,232 3148,244" style="stroke-width:5;marker-end:url(#t-a20v)"/>
<path class="c-a26v" d="M3070,205C3060,220 3045,235 3040,245"/>
<path class="c-a25k" d="M3270,200C3330,215 3380,235 3400,245"/>
<path class="c-a27k" d="M3666,195C3750,210 3850,240 3906,250"/>
<path class="c-a27q" d="M3800,205C3850,220 3890,235 3910,245"/>
<path class="c-a22q" d="M3999,195C4100,210 4200,235 4230,250"/>
<path class="c-a22v" d="M4245,205C4250,220 4260,235 4265,245"/>
<path class="c-a27v" d="M4315,200C4200,215 4050,240 4000,255"/>
<path class="c-a22k" d="M4504,203C4450,220 4350,240 4323,252"/>
<path class="c-a20k" d="M4795,200C4500,225 4300,243 4000,240C3700,235 3500,240 3290,256" style="stroke-width:10;marker-end:url(#t-a20k)"/>
<path class="c-a24" d="M2240,285C2255,300 2265,315 2275,325"/>
<path class="c-a24" d="M2267,272C2800,290 3400,310 3636,330"/>
<path class="c-a23" d="M2441.5,285V325"/>
<path class="c-a23" d="M2420,285C2390,300 2360,315 2345,325"/>
<path class="c-a23" d="M2394,270C2000,290 1700,320 1558,338"/>
<path class="c-a23" d="M2488,282C2600,350 2800,440 2890,485"/>
<path class="c-a23" d="M2488,272C3200,290 3800,310 3990,325"/>
<path class="c-a21" d="M2580,285C2550,300 2510,315 2495,325"/>
<path class="c-a21" d="M2565,270C2000,290 1300,320 1063,340"/>
<path class="c-a21" d="M2640,285C2680,300 2720,315 2730,325"/>
<path class="c-a21" d="M2659,268C3000,285 3450,310 3636,328"/>
<path class="c-a21" d="M2565,278C2500,300 2420,318 2363,330"/>
<path class="c-a26" d="M2989,275C2800,300 2600,325 2503,335"/>
<path class="c-a26" d="M3020,285C3080,300 3130,315 3155,325"/>
<path class="c-a26" d="M3083,272C3500,290 3850,310 3990,322"/>
<path class="c-a20" d="M3206.5,285V311" style="stroke-width:3;marker-end:url(#t-a20)"/>
<path class="c-a20" d="M3240,285C3290,300 3320,315 3335,325"/>
<path class="c-a20" d="M3159,275C3000,290 2900,320 2830,333"/>
<path class="c-a20" d="M3159,272C2800,290 2400,320 2154,334"/>
<path class="c-a20" d="M3254,270C3400,290 3550,320 3636,333" style="stroke-width:2.5"/>
<path class="c-a25" d="M3420,285C3410,300 3400,315 3397,325"/>
<path class="c-a25" d="M3380,275C3330,295 3290,315 3264,330"/>
<path class="c-a25" d="M3380,272C2800,290 2200,320 1890,336"/>
<path class="c-a25" d="M3475,275C3550,295 3600,315 3630,325"/>
<path class="c-a25" d="M3475,270C3800,290 4000,320 4168,332"/>
<path class="c-a27" d="M3906,278C3850,300 3790,318 3760,325"/>
<path class="c-a27" d="M3975,285C3990,300 4005,315 4015,325"/>
<path class="c-a27" d="M3906,272C3700,295 3500,325 3445,337"/>
<path class="c-a27" d="M4000,277C4100,295 4150,315 4176,325"/>
<path class="c-a22" d="M4265,285C4258,300 4250,315 4245,325"/>
<path class="c-a22" d="M4228,280C4180,300 4130,320 4102,330"/>
<path class="c-a37v" d="M1063,352C1500,370 2000,400 2178,418"/>
<path class="c-a35v" d="M1558,350C1900,370 2250,400 2361,413"/>
<path class="c-a30v" d="M1888,352C2300,372 2700,400 3000,421" style="stroke-width:5.5;marker-end:url(#t-a30v)"/>
<path class="c-a37k" d="M2130,365C2160,380 2185,395 2195,405"/>
<path class="c-a35q" d="M2330,365C2350,380 2375,395 2385,405"/>
<path class="c-a37q" d="M2400,365C2340,380 2280,395 2260,405"/>
<path class="c-a35k" d="M2716,358C2600,380 2500,400 2455,410"/>
<path class="c-a30k" d="M3171,365C3150,378 3125,392 3112,399" style="stroke-width:2.5;marker-end:url(#t-a30k)"/>
<path class="c-a30q" d="M3328,360C3250,380 3180,398 3136,408" style="stroke-width:3.5;marker-end:url(#t-a30q)"/>
<path class="c-a36q" d="M3736,365C3770,380 3800,392 3817,400" style="stroke-width:2.5;marker-end:url(#t-a36q)"/>
<path class="c-a36k" d="M4002,365C3970,380 3940,393 3921,400" style="stroke-width:2.5;marker-end:url(#t-a36k)"/>
<path class="c-a36v" d="M4176,358C4100,375 4000,398 3935,410" style="stroke-width:5.5;marker-end:url(#t-a36v)"/>
<path class="c-a37" d="M2272,435C2500,450 2750,480 2855,497"/>
<path class="c-a35" d="M2455,435C2600,450 2780,475 2855,490"/>
<path class="c-a30" d="M3034,446C3010,458 2990,470 2972,479" style="stroke-width:4;marker-end:url(#t-a30)"/>
<path class="c-a36" d="M3822,430C3500,452 3200,480 3016,497" style="stroke-width:4;marker-end:url(#t-a36)"/>
</g>
<g id="node-a1_4_v" class="node"><rect x="1584" y="4" width="115" height="40" rx="13" fill="#b07505"/><text x="1641.5" y="30.5">&lt;a1.4_v&gt;</text></g>
<g id="node-a1_2_v" class="node"><rect x="3012" y="4" width="115" height="40" rx="13" fill="#14695c"/><text x="3069.5" y="30.5">&lt;a1.2_v&gt;</text></g>
<g id="node-a1_7_v" class="node"><rect x="4128" y="4" width="114" height="40" rx="13" fill="#b8f311"/><text x="4185" y="30.5">&lt;a1.7_v&gt;</text></g>
<g id="node-a1_1_v" class="node"><rect x="4267" y="4" width="114" height="40" rx="13" fill="#cc7db8"/><text x="4324" y="30.5">&lt;a1.1_v&gt;</text></g>
<g id="node-a1_3_v" class="node"><rect x="4548" y="4" width="115" height="40" rx="13" fill="#542c34"/><text x="4605.5" y="30.5">&lt;a1.3_v&gt;</text></g>
<g id="node-a1_5_v" class="node"><rect x="5244" y="4" width="115" height="40" rx="13" fill="#8b2645"/><text x="5301.5" y="30.5">&lt;a1.5_v&gt;</text></g>
<g id="node-a1_6_v" class="node"><rect x="5903" y="4" width="114" height="40" rx="13" fill="#ed0b3c"/><text x="5960" y="30.5">&lt;a1.6_v&gt;</text></g>
<g id="node-a0_7" class="node"><rect x="343" y="84.5" width="95" height="40" rx="13" fill="#6b0620"/><text x="390.5" y="111">&lt;a0.7&gt;</text></g>
<g id="node-a0_6" class="node"><rect x="826" y="84.5" width="95" height="40" rx="13" fill="#520565"/><text x="873.5" y="111">&lt;a0.6&gt;</text></g>
<g id="node-a0_3" class="node"><rect x="1254" y="84.5" width="95" height="40" rx="13" fill="#fb0d8a"/><text x="1301.5" y="111">&lt;a0.3&gt;</text></g>
<g id="node-a1_4" class="node"><rect x="1594" y="84.5" width="95" height="40" rx="13" fill="#8e6b48"/><text x="1641.5" y="111">&lt;a1.4&gt;</text></g>
<g id="node-a0_0" class="node"><rect x="1802" y="84.5" width="95" height="40" rx="13" fill="#e94461"/><text x="1849.5" y="111">&lt;a0.0&gt;</text></g>
<g id="node-embed" class="node"><rect x="2256" y="84.5" width="87" height="40" rx="13" fill="#66cb97"/><text x="2299.5" y="111">embed</text></g>
<g id="node-a0_5" class="node"><rect x="2892" y="84.5" width="95" height="40" rx="13" fill="#9ded52"/><text x="2939.5" y="111">&lt;a0.5&gt;</text></g>
<g id="node-a1_2" class="node"><rect x="3022" y="84.5" width="95" height="40" rx="13" fill="#f880e8"/><text x="3069.5" y="111">&lt;a1.2&gt;</text></g>
<g id="node-a0_1" class="node"><rect x="3366" y="84.5" width="95" height="40" rx="13" fill="#cd0a45"/><text x="3413.5" y="111">&lt;a0.1&gt;</text></g>
<g id="node-a1_0" class="node"><rect x="4008" y="84.5" width="95" height="40" rx="13" fill="#3569df"/><text x="4055.5" y="111">&lt;a1.0&gt;</text></g>
<g id="node-a1_7" class="node"><rect x="4147" y="84.5" width="95" height="40" rx="13" fill="#e8b4d9"/><text x="4194.5" y="111">&lt;a1.7&gt;</text></g>
<g id="node-a1_1" class="node"><rect x="4271" y="84.5" width="95" height="40" rx="13" fill="#3f6614"/><text x="4318.5" y="111">&lt;a1.1&gt;</text></g>
<g id="node-a1_3" class="node"><rect x="4558" y="84.5" width="95" height="40" rx="13" fill="#d3aed6"/><text x="4605.5" y="111">&lt;a1.3&gt;</text></g>
<g id="node-a0_2" class="node"><rect x="4762" y="84.5" width="95" height="40" rx="13" fill="#14ee8e"/><text x="4809.5" y="111">&lt;a0.2&gt;</text></g>
<g id="node-a1_5" class="node"><rect x="5254" y="84.5" width="95" height="40" rx="13" fill="#6e9f9c"/><text x="5301.5" y="111">&lt;a1.5&gt;</text></g>
<g id="node-a0_4" class="node"><rect x="5761" y="84.5" width="95" height="40" rx="13" fill="#1b8a0a"/><text x="5808.5" y="111">&lt;a0.4&gt;</text></g>
<g id="node-a1_6" class="node"><rect x="5913" y="84.5" width="95" height="40" rx="13" fill="#d83bb6"/><text x="5960.5" y="111">&lt;a1.6&gt;</text></g>
<g id="node-a2_4_v" class="node"><rect x="752" y="165" width="115" height="40" rx="13" fill="#76036d"/><text x="809.5" y="191.5">&lt;a2.4_v&gt;</text></g>
<g id="node-a2_3_q" class="node"><rect x="1297" y="165" width="115" height="40" rx="13" fill="#19a4c8"/><text x="1354.5" y="191.5">&lt;a2.3_q&gt;</text></g>
<g id="node-a2_1_k" class="node"><rect x="1488" y="165" width="115" height="40" rx="13" fill="#869a80"/><text x="1545.5" y="191.5">&lt;a2.1_k&gt;</text></g>
<g id="node-a2_0_q" class="node"><rect x="1678" y="165" width="115" height="40" rx="13" fill="#1bac8b"/><text x="1735.5" y="191.5">&lt;a2.0_q&gt;</text></g>
<g id="node-a2_5_v" class="node"><rect x="2173" y="165" width="115" height="40" rx="13" fill="#403f30"/><text x="2230.5" y="191.5">&lt;a2.5_v&gt;</text></g>
<g id="node-a2_3_v" class="node"><rect x="2312" y="165" width="115" height="40" rx="13" fill="#379b33"/><text x="2369.5" y="191.5">&lt;a2.3_v&gt;</text></g>
<g id="node-a2_1_q" class="node"><rect x="2451" y="165" width="115" height="40" rx="13" fill="#e690ad"/><text x="2508.5" y="191.5">&lt;a2.1_q&gt;</text></g>
<g id="node-a2_1_v" class="node"><rect x="2642" y="165" width="115" height="40" rx="13" fill="#4b78ee"/><text x="2699.5" y="191.5">&lt;a2.1_v&gt;</text></g>
<g id="node-a2_0_v" class="node"><rect x="2882" y="165" width="115" height="40" rx="13" fill="#50e31a"/><text x="2939.5" y="191.5">&lt;a2.0_v&gt;</text></g>
<g id="node-a2_6_v" class="node"><rect x="3021" y="165" width="115" height="40" rx="13" fill="#d5f3a8"/><text x="3078.5" y="191.5">&lt;a2.6_v&gt;</text></g>
<g id="node-a2_5_k" class="node"><rect x="3160" y="165" width="115" height="40" rx="13" fill="#f1ed94"/><text x="3217.5" y="191.5">&lt;a2.5_k&gt;</text></g>
<g id="node-a2_7_k" class="node"><rect x="3552" y="165" width="115" height="40" rx="13" fill="#a15fc0"/><text x="3609.5" y="191.5">&lt;a2.7_k&gt;</text></g>
<g id="node-a2_7_q" class="node"><rect x="3691" y="165" width="115" height="40" rx="13" fill="#c35f75"/><text x="3748.5" y="191.5">&lt;a2.7_q&gt;</text></g>
<g id="node-a2_2_q" class="node"><rect x="3883" y="165" width="115" height="40" rx="13" fill="#c9e3b3"/><text x="3940.5" y="191.5">&lt;a2.2_q&gt;</text></g>
<g id="node-a2_2_v" class="node"><rect x="4176" y="165" width="115" height="40" rx="13" fill="#f2ae0a"/><text x="4233.5" y="191.5">&lt;a2.2_v&gt;</text></g>
<g id="node-a2_7_v" class="node"><rect x="4315" y="165" width="115" height="40" rx="13" fill="#5cf8c4"/><text x="4372.5" y="191.5">&lt;a2.7_v&gt;</text></g>
<g id="node-a2_2_k" class="node"><rect x="4504" y="165" width="115" height="40" rx="13" fill="#8c16ed"/><text x="4561.5" y="191.5">&lt;a2.2_k&gt;</text></g>
<g id="node-a2_0_k" class="node"><rect x="4795" y="165" width="115" height="40" rx="13" fill="#17fc75"/><text x="4852.5" y="191.5">&lt;a2.0_k&gt;</text></g>
<g id="node-a2_4" class="node"><rect x="2172" y="245" width="95" height="40" rx="13" fill="#c574e2"/><text x="2219.5" y="271.5">&lt;a2.4&gt;</text></g>
<g id="node-a2_3" class="node"><rect x="2394" y="245" width="95" height="40" rx="13" fill="#b5ae33"/><text x="2441.5" y="271.5">&lt;a2.3&gt;</text></g>
<g id="node-a2_1" class="node"><rect x="2565" y="245" width="95" height="40" rx="13" fill="#1bc65b"/><text x="2612.5" y="271.5">&lt;a2.1&gt;</text></g>
<g id="node-a2_6" class="node"><rect x="2989" y="245" width="95" height="40" rx="13" fill="#d8f9a0"/><text x="3036.5" y="271.5">&lt;a2.6&gt;</text></g>
<g id="node-a2_0" class="node"><rect x="3159" y="245" width="95" height="40" rx="13" fill="#906dae"/><text x="3206.5" y="271.5">&lt;a2.0&gt;</text></g>
<g id="node-a2_5" class="node"><rect x="3380" y="245" width="95" height="40" rx="13" fill="#52177e"/><text x="3427.5" y="271.5">&lt;a2.5&gt;</text></g>
<g id="node-a2_7" class="node"><rect x="3906" y="245" width="95" height="40" rx="13" fill="#e45322"/><text x="3953.5" y="271.5">&lt;a2.7&gt;</text></g>
<g id="node-a2_2" class="node"><rect x="4228" y="245" width="95" height="40" rx="13" fill="#bb2449"/><text x="4275.5" y="271.5">&lt;a2.2&gt;</text></g>
<g id="node-a3_7_v" class="node"><rect x="948" y="325" width="115" height="40" rx="13" fill="#13bff9"/><text x="1005.5" y="351.5">&lt;a3.7_v&gt;</text></g>
<g id="node-a3_5_v" class="node"><rect x="1444" y="325" width="115" height="40" rx="13" fill="#015db5"/><text x="1501.5" y="351.5">&lt;a3.5_v&gt;</text></g>
<g id="node-a3_0_v" class="node"><rect x="1773" y="325" width="115" height="40" rx="13" fill="#e6e920"/><text x="1830.5" y="351.5">&lt;a3.0_v&gt;</text></g>
<g id="node-a3_7_k" class="node"><rect x="2040" y="325" width="115" height="40" rx="13" fill="#6050b7"/><text x="2097.5" y="351.5">&lt;a3.7_k&gt;</text></g>
<g id="node-a3_5_q" class="node"><rect x="2247" y="325" width="115" height="40" rx="13" fill="#3130e8"/><text x="2304.5" y="351.5">&lt;a3.5_q&gt;</text></g>
<g id="node-a3_7_q" class="node"><rect x="2387" y="325" width="115" height="40" rx="13" fill="#4b28b8"/><text x="2444.5" y="351.5">&lt;a3.7_q&gt;</text></g>
<g id="node-a3_5_k" class="node"><rect x="2716" y="325" width="115" height="40" rx="13" fill="#ae9ea2"/><text x="2773.5" y="351.5">&lt;a3.5_k&gt;</text></g>
<g id="node-a3_0_k" class="node"><rect x="3149" y="325" width="115" height="40" rx="13" fill="#74fcef"/><text x="3206.5" y="351.5">&lt;a3.0_k&gt;</text></g>
<g id="node-a3_0_q" class="node"><rect x="3329" y="325" width="115" height="40" rx="13" fill="#b85ff0"/><text x="3386.5" y="351.5">&lt;a3.0_q&gt;</text></g>
<g id="node-a3_6_q" class="node"><rect x="3636" y="325" width="115" height="40" rx="13" fill="#0f5dcf"/><text x="3693.5" y="351.5">&lt;a3.6_q&gt;</text></g>
<g id="node-a3_6_k" class="node"><rect x="3988" y="325" width="115" height="40" rx="13" fill="#2bdbbe"/><text x="4045.5" y="351.5">&lt;a3.6_k&gt;</text></g>
<g id="node-a3_6_v" class="node"><rect x="4176" y="325" width="115" height="40" rx="13" fill="#fd0bc3"/><text x="4233.5" y="351.5">&lt;a3.6_v&gt;</text></g>
<g id="node-a3_7" class="node"><rect x="2178" y="405" width="95" height="40" rx="13" fill="#717bdb"/><text x="2225.5" y="431.5">&lt;a3.7&gt;</text></g>
<g id="node-a3_5" class="node"><rect x="2361" y="405" width="95" height="40" rx="13" fill="#41a1b7"/><text x="2408.5" y="431.5">&lt;a3.5&gt;</text></g>
<g id="node-a3_0" class="node"><rect x="3021" y="405" width="95" height="40" rx="13" fill="#a557e0"/><text x="3068.5" y="431.5">&lt;a3.0&gt;</text></g>
<g id="node-a3_6" class="node"><rect x="3822" y="405" width="95" height="40" rx="13" fill="#39aff6"/><text x="3869.5" y="431.5">&lt;a3.6&gt;</text></g>
<g id="node-resid_post" class="node"><rect x="2855" y="485" width="148" height="40" rx="13" fill="#d9bfcd"/><text x="2929" y="511.5">&lt;resid_post&gt;</text></g>
</svg>
